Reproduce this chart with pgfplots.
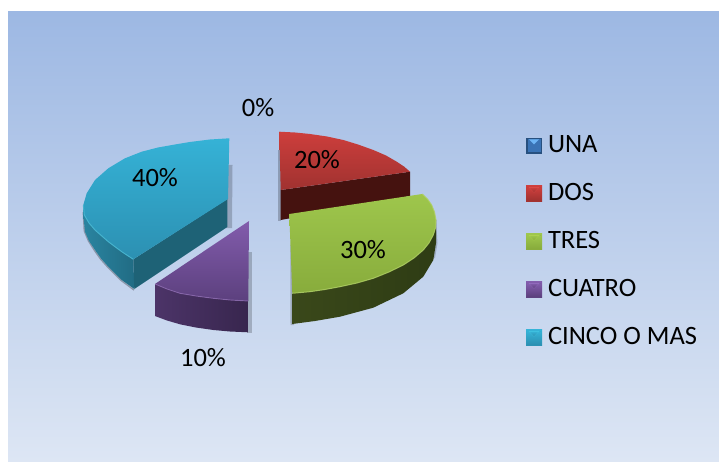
\documentclass[border=0pt]{standalone}
\usepackage{pgfplots}
\usepackage{fontspec}
\setmainfont{Carlito}
\pgfplotsset{compat=1.18}
\definecolor{bgT}{HTML}{9DB8E3}
\definecolor{bgB}{HTML}{DDE6F4}
\definecolor{rT}{HTML}{CD3E3C}\definecolor{rB}{HTML}{A03230}\definecolor{rW}{HTML}{45120F}
\definecolor{gT}{HTML}{9EC64C}\definecolor{gB}{HTML}{88AC3C}\definecolor{gWa}{HTML}{3A481A}\definecolor{gWb}{HTML}{2E3C14}\definecolor{gR}{HTML}{B0D064}
\definecolor{pT}{HTML}{825CAC}\definecolor{pB}{HTML}{5C407E}\definecolor{pWa}{HTML}{4C3468}\definecolor{pWb}{HTML}{38264E}\definecolor{pR}{HTML}{8C69AF}
\definecolor{tT}{HTML}{35B2D6}\definecolor{tB}{HTML}{2C90B2}\definecolor{tWa}{HTML}{2A84A0}\definecolor{tWb}{HTML}{216C84}\definecolor{tS}{HTML}{1E6276}\definecolor{tR}{HTML}{48B8D2}
\newcommand{\swatch}[3]{%
  \fill[#1] (0pt,-8pt) rectangle (16pt,8pt);
  \fill[#2] (1.5pt,-6.5pt) rectangle (14.5pt,6.5pt);
  \fill[#3] (3pt,6.5pt) -- (13pt,6.5pt) -- (8pt,1.5pt) -- cycle;
  \path (22pt,0pt);
}
\definecolor{s1a}{HTML}{27507F}\definecolor{s1b}{HTML}{3A73B5}\definecolor{s1c}{HTML}{6CB4F5}
\definecolor{s2a}{HTML}{7D2321}\definecolor{s2b}{HTML}{BE3734}\definecolor{s2c}{HTML}{FA6E69}
\definecolor{s3a}{HTML}{5A7323}\definecolor{s3b}{HTML}{8CAA37}\definecolor{s3c}{HTML}{D7F05A}
\definecolor{s4a}{HTML}{463269}\definecolor{s4b}{HTML}{694B96}\definecolor{s4c}{HTML}{BE96F0}
\definecolor{s5a}{HTML}{1E697D}\definecolor{s5b}{HTML}{28A0BE}\definecolor{s5c}{HTML}{5AEBFA}
\newcommand{\lf}{\fontsize{26.5}{30}\selectfont}
\begin{document}
\begin{tikzpicture}
\begin{axis}[
  hide axis, scale only axis, width=719pt, height=462pt,
  xmin=0, xmax=719, ymin=0, ymax=462, y dir=reverse,
  legend cell align=left,
  legend style={at={(axis cs:526,134.5)},anchor=north west,draw=none,fill=none,
    inner sep=0pt,outer sep=0pt,font=\lf,row sep=25.2pt,
    nodes={inner sep=0pt,outer sep=0pt,text height=17.5pt,text depth=5.3pt},
    /tikz/every even column/.append style={column sep=0pt}},
  every axis plot/.append style={line join=round},
]
% canvas
\addplot[draw=none,fill=white,forget plot] coordinates {(0,0)(719,0)(719,462)(0,462)} -- cycle;
\addplot[draw=none,top color=bgT,bottom color=bgB,forget plot] coordinates {(8,12)(719,12)(719,461)(8,461)} -- cycle;
% UNA 0%
\addplot[draw=none,fill=s1b,
  legend image code/.code={\swatch{fill=s1a}{fill=s1b}{fill=s1c}}]
  coordinates {(255,132)(255,132)};
\addlegendentry{UNA}
% DOS shadow + wall
\addplot[draw=none,fill=black,opacity=.22,forget plot] coordinates {(277.8,150)(277.8,221)(281,221)(281,150)} -- cycle;
\addplot[draw=none,fill=rW,forget plot] coordinates {(280.7,190)(410,171.7)(410,196)(280.7,220)} -- cycle;
\addplot[draw=none,top color=rT,bottom color=rB,
  legend image code/.code={\swatch{fill=s2a}{fill=s2b}{fill=s2c}}]
  coordinates {(279.3,131.7)(295,132.5)(310,134)(327,136.5)(343.3,140)(358,144.5)(373.3,150)(386,155.5)(396.7,161.7)(404,166.5)(410,171.7)(280.7,190)} -- cycle;
\addlegendentry{DOS}
% TRES wall
\addplot[draw=none,fill=black,opacity=.2,forget plot] coordinates {(290.3,245)(290.5,325)(294,325)(294,245)} -- cycle;
\addplot[draw=none,fill=black,opacity=.18,forget plot] coordinates {(436,220)(437.5,243)(435,258)(432,258)} -- cycle;
\addplot[draw=none,left color=gWa,right color=gWb,forget plot]
  coordinates {(292.3,293.3)(310,291.7)(340,286.7)(373.3,278.3)(403.3,265)(423.3,250)(433.3,235)(436,220)(436,243)(433.3,260)(423.3,276.7)(403.3,293.3)(373.3,307.7)(340,316.7)(315,321)(292.3,324)} -- cycle;
\addplot[draw=none,top color=gT,bottom color=gB,
  legend image code/.code={\swatch{fill=s3a}{fill=s3b}{fill=s3c}}]
  coordinates {(289.3,214)(422.3,194)(427.5,199)(431.7,205)(434.5,212)(436,220)(435.5,228)(433.3,235)(429,243)(423.3,250)(414,258)(403.3,265)(389,272)(373.3,278.3)(357,283)(340,286.7)(325,289.5)(310,291.7)(292.3,293.3)} -- cycle;
\addlegendentry{TRES}
\addplot[draw=gR,line width=1pt,forget plot,opacity=.8]
  coordinates {(422.3,194)(427.5,199)(431.7,205)(434.5,212)(436,220)(435.5,228)(433.3,235)(429,243)(423.3,250)(414,258)(403.3,265)(389,272)(373.3,278.3)(357,283)(340,286.7)(325,289.5)(310,291.7)(292.3,293.3)};
% CUATRO wall
\addplot[draw=none,fill=black,opacity=.2,forget plot] coordinates {(247,252)(251.5,252)(251.5,333)(247,333)} -- cycle;
\addplot[draw=none,left color=pWa,right color=pWb,forget plot]
  coordinates {(155,284)(167,289)(180,293.3)(196,296)(213.3,298.3)(230,300)(248.3,301)(248.3,332.3)(230,331.5)(213.3,330)(196,327.5)(180,324.3)(167,320.5)(155,316)} -- cycle;
\addplot[draw=none,top color=pT,bottom color=pB,
  legend image code/.code={\swatch{fill=s4a}{fill=s4b}{fill=s4c}}]
  coordinates {(249,221)(155,284)(167,289)(180,293.3)(196,296)(213.3,298.3)(230,300)(248.3,301)} -- cycle;
\addlegendentry{CUATRO}
\addplot[draw=pR,line width=.9pt,forget plot,opacity=.8]
  coordinates {(155,284)(167,289)(180,293.3)(196,296)(213.3,298.3)(230,300)(248.3,301)};
% CINCO O MAS wall
\addplot[draw=none,fill=black,opacity=.2,forget plot] coordinates {(226,165)(232.5,165)(232,228)(226,228)} -- cycle;
\addplot[draw=black,opacity=.28,line width=1.4pt,forget plot] coordinates {(83.3,212)(84.3,231)(88.5,241)(94.5,250.5)(100.5,259)(107.8,267.2)(121.2,280.5)(134,290)};
\addplot[draw=none,left color=tWa,right color=tWb,forget plot]
  coordinates {(83.3,205)(84.3,215)(89,223)(95,230)(108.3,241.7)(121.7,251.7)(133.3,259.3)(134.3,289)(121.7,280)(108.3,266.7)(101,258.5)(95,250)(89,241)(85,231.7)(83.3,215)} -- cycle;
\addplot[draw=none,fill=tS,forget plot]
  coordinates {(133.3,259.3)(227.3,199)(227.3,227)(134.3,289)} -- cycle;
\addplot[draw=none,top color=tT,bottom color=tB,
  legend image code/.code={\swatch{fill=s5a}{fill=s5b}{fill=s5c}}]
  coordinates {(229.3,138.3)(210,139.5)(190,142)(175,144.5)(158,147.5)(141.7,151.7)(125,158.3)(108.3,168.3)(95,180)(86.7,193.3)(83.3,205)(84.3,215)(89,223)(95,230)(108.3,241.7)(121.7,251.7)(133.3,259.3)(228,199)} -- cycle;
\addlegendentry{CINCO O MAS}
\addplot[draw=tR,line width=1pt,forget plot,opacity=.85]
  coordinates {(83.3,205)(84.3,215)(89,223)(95,230)(108.3,241.7)(121.7,251.7)(133.3,259.3)};
% labels
\node[font=\lf] at (axis cs:258,108) {0\%};
\node[font=\lf] at (axis cs:317,160) {20\%};
\node[font=\lf] at (axis cs:363,250) {30\%};
\node[font=\lf] at (axis cs:203,358) {10\%};
\node[font=\lf] at (axis cs:155,178) {40\%};
\end{axis}
\end{tikzpicture}
\end{document}
